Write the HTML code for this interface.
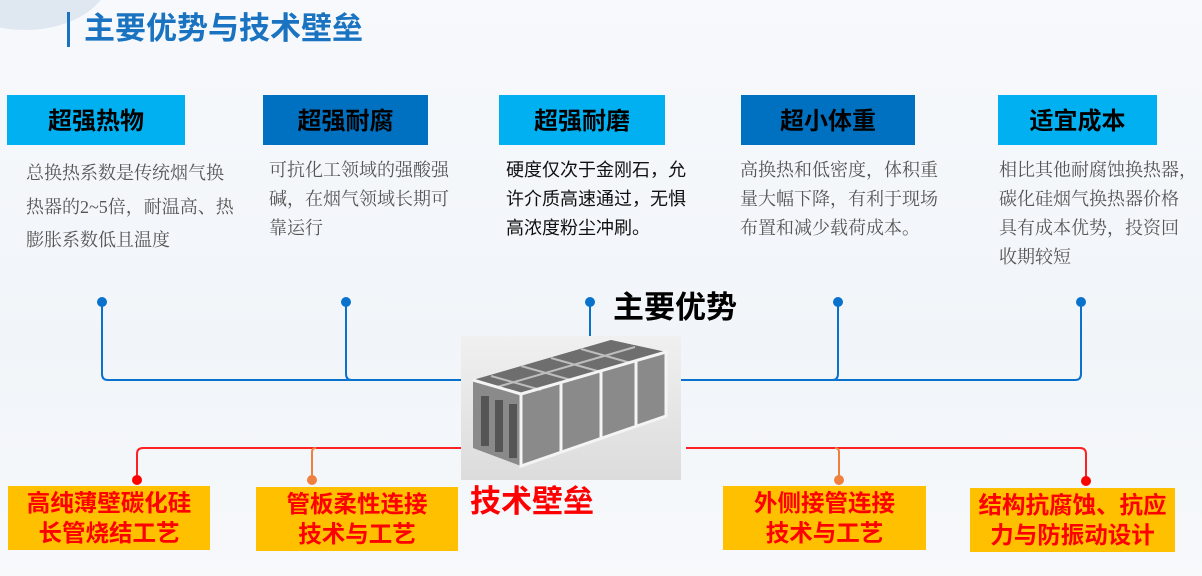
<!DOCTYPE html>
<html><head><meta charset="utf-8"><style>
body{margin:0;width:1202px;height:576px;overflow:hidden;background:linear-gradient(180deg,#f7f9fc 0%,#f1f5f9 60%,#f7f9fb 100%);position:relative;font-family:"Liberation Sans","Noto Sans CJK SC",sans-serif}
.a{position:absolute}
.hd{font-size:24px;font-weight:bold;color:#000;text-align:center;line-height:54px;height:50px;top:95px}
.t{font-family:"Liberation Serif","Noto Serif CJK SC",serif;font-size:18px;color:#555;line-height:29px;top:156px;white-space:nowrap}
.y{background:#ffc000;color:#f00;font-weight:bold;font-size:23.5px;line-height:30px;text-align:center;padding-top:2px;box-sizing:border-box;white-space:nowrap}
</style></head><body>
<div class="a" style="left:-60px;top:-80px;width:170px;height:110px;border-radius:50%;background:#dfe8f1"></div>
<div class="a" style="left:67px;top:12px;width:3px;height:35px;background:#1a73c0"></div>
<div class="a" style="left:84px;top:9px;font-size:31px;font-weight:bold;color:#1a73c0;line-height:40px">主要优势与技术壁垒</div>

<div class="a hd" style="left:7px;width:178px;background:#00b0f0">超强热物</div>
<div class="a hd" style="left:263px;width:165px;background:#0070c0">超强耐腐</div>
<div class="a hd" style="left:499px;width:166px;background:#00b0f0">超强耐磨</div>
<div class="a hd" style="left:741px;width:174px;background:#0070c0">超小体重</div>
<div class="a hd" style="left:998px;width:159px;background:#00b0f0">适宜成本</div>

<div class="a t" style="left:26px;top:157px;line-height:33.5px">总换热系数是传统烟气换<br>热器的2~5倍，耐温高、热<br>膨胀系数低且温度</div>
<div class="a t" style="left:269px">可抗化工领域的强酸强<br>碱，在烟气领域长期可<br>靠运行</div>
<div class="a t" style="left:506px;color:#111;font-family:'Liberation Sans','Noto Sans CJK SC',sans-serif">硬度仅次于金刚石，允<br>许介质高速通过，无惧<br>高浓度粉尘冲刷。</div>
<div class="a t" style="left:740px">高换热和低密度，体积重<br>量大幅下降，有利于现场<br>布置和减少载荷成本。</div>
<div class="a t" style="left:999px">相比其他耐腐蚀换热器，<br>碳化硅烟气换热器价格<br>具有成本优势，投资回<br>收期较短</div>

<svg class="a" style="left:0;top:0" width="1202" height="576">
<g fill="none" stroke="#0a72cc" stroke-width="2">
<path d="M102 302V374q0 6 6 6H1075q6 0 6-6V302"/>
<path d="M346 302V374q0 6 6 6"/><path d="M838 302V374q0 6-6 6"/>
<path d="M590 302V336"/>
</g>
<g fill="#0a72cc"><circle cx="102" cy="302" r="5"/><circle cx="346" cy="302" r="5"/><circle cx="590" cy="302" r="5"/><circle cx="838" cy="302" r="5"/><circle cx="1081" cy="302" r="5"/></g>
<g fill="none" stroke-width="2">
<path d="M137 480V454q0-6 6-6H470" stroke="#f22"/>
<path d="M312 480V452q0-4 4-4" stroke="#f08040"/>
<path d="M686 448H1080q6 0 6 6V480" stroke="#f22"/>
<path d="M839 480V452q0-4-4-4" stroke="#f08040"/>
</g>
<circle cx="137" cy="480" r="5" fill="#f00"/><circle cx="312" cy="480" r="5" fill="#f08040"/>
<circle cx="839" cy="480" r="5" fill="#f08040"/><circle cx="1086" cy="481" r="5" fill="#f00"/>
</svg>

<div class="a" style="left:461px;top:336px;width:220px;height:144px;background:linear-gradient(180deg,#f0f0f0,#dcdcdc);overflow:hidden">
<svg width="220" height="144">
<polygon points="12,44 150,4 205,16 205,80 60,130 12,112" fill="#8a8a8a"/>
<polygon points="12,44 150,4 205,16 60,58" fill="#6e6e6e"/>
<g stroke="#bdbdbd" stroke-width="2"><line x1="30" y1="40" x2="80" y2="54"/><line x1="60" y1="30" x2="110" y2="44"/><line x1="90" y1="22" x2="140" y2="36"/><line x1="120" y1="13" x2="170" y2="27"/><line x1="36" y1="51" x2="174" y2="11"/></g>
<g stroke="#f4f4f4" stroke-width="3" fill="none"><polygon points="60,58 205,16 205,80 60,130"/><line x1="100" y1="46" x2="100" y2="116"/><line x1="140" y1="35" x2="140" y2="102"/><line x1="175" y1="25" x2="175" y2="90"/><line x1="12" y1="44" x2="60" y2="58"/></g>
<g fill="#555"><rect x="20" y="60" width="8" height="50"/><rect x="34" y="64" width="8" height="52"/><rect x="48" y="68" width="8" height="54"/></g>
</svg></div>

<div class="a" style="left:613px;top:289px;font-size:31px;font-weight:bold;color:#000;line-height:38px">主要优势</div>
<div class="a" style="left:470px;top:483px;font-size:31px;font-weight:bold;color:#f00;line-height:38px">技术壁垒</div>

<div class="a y" style="left:8px;top:486px;width:202px;height:64px">高纯薄壁碳化硅<br>长管烧结工艺</div>
<div class="a y" style="left:256px;top:487px;width:202px;height:64px">管板柔性连接<br>技术与工艺</div>
<div class="a y" style="left:723px;top:486px;width:203px;height:64px">外侧接管连接<br>技术与工艺</div>
<div class="a y" style="left:970px;top:488px;width:205px;height:64px">结构抗腐蚀、抗应<br>力与防振动设计</div>
</body></html>
